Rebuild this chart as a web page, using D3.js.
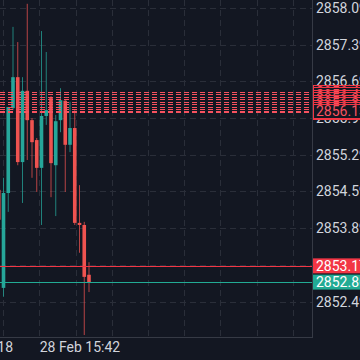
<!DOCTYPE html>
<html>
<head>
<meta charset="utf-8">
<script src="https://cdn.jsdelivr.net/npm/d3@7"></script>
<style>
  html, body { margin: 0; padding: 0; background: #131722; }
  svg { display: block; }
  text { font-family: Roboto, "Noto Sans", sans-serif; }
</style>
</head>
<body>
<svg id="chart" width="360" height="360"></svg>
<script>
// ---- data ----
const opens  = [2854.62, 2852.75, 2854.56, 2856.18, 2856.77, 2855.15, 2856.51, 2855.95, 2855.57, 2855.04, 2856.03, 2856.37, 2855.09, 2855.95, 2856.32, 2855.48, 2855.80, 2853.99, 2853.95, 2853.00];
const highs  = [2854.70, 2854.85, 2856.20, 2857.73, 2857.44, 2856.77, 2858.17, 2855.99, 2855.61, 2857.65, 2857.25, 2856.41, 2856.05, 2856.56, 2856.35, 2856.30, 2856.14, 2854.71, 2854.01, 2853.24];
const lows   = [2853.90, 2852.58, 2854.20, 2856.14, 2855.09, 2854.37, 2855.19, 2854.85, 2854.58, 2853.95, 2855.86, 2854.48, 2854.12, 2855.72, 2854.58, 2855.34, 2853.95, 2853.42, 2851.85, 2852.67];
const closes = [2854.05, 2854.56, 2856.20, 2856.77, 2855.15, 2856.51, 2855.95, 2855.53, 2855.04, 2856.03, 2856.14, 2855.13, 2855.93, 2856.33, 2855.48, 2855.80, 2853.99, 2853.95, 2852.96, 2852.86];

const priceTicks = [2858.09, 2857.39, 2856.69, 2855.99, 2855.29, 2854.59, 2853.89, 2853.19, 2852.49];
const timeGridTicks = [0.89, 8.53, 16.16, 23.79, 31.42, 39.05, 46.68, 54.32, 61.95];
const timeLabels = ["15:18", "28 Feb 15:42"];
const timeLabelPos = [-0.66, 17.1];

const orderPrices = [2856.48, 2856.44, 2856.40, 2856.35, 2856.30, 2856.26, 2856.21, 2856.17, 2856.10, 2856.13];
const askPrice = 2853.17;
const lastPrice = 2852.86;

// ---- layout ----
const W = 360, H = 360;
const plotRight = 312, plotBottom = 337;
const bg = "#131722", gridC = "#2a2e39", textC = "#d1d4dc";
const up = "#26a69a", down = "#ef5350";

const svg = d3.select("#chart");
svg.append("rect").attr("width", W).attr("height", H).attr("fill", bg);

const x = d3.scaleLinear().domain([0, 19]).range([-1.25, 89]);
const y = d3.scaleLinear().domain([2852.49, 2858.09]).range([301.5, 8]);

svg.append("clipPath").attr("id", "plotclip")
  .append("rect").attr("x", 0).attr("y", 0).attr("width", plotRight).attr("height", plotBottom);

const plot = svg.append("g").attr("clip-path", "url(#plotclip)");

// grid
plot.selectAll("line.hg").data(priceTicks).join("line")
  .attr("x1", 0).attr("x2", plotRight)
  .attr("y1", d => Math.round(y(d)) + 0.5).attr("y2", d => Math.round(y(d)) + 0.5)
  .attr("stroke", gridC).attr("stroke-dasharray", "6,4");
plot.selectAll("line.vg").data(timeGridTicks).join("line")
  .attr("y1", 0).attr("y2", plotBottom)
  .attr("x1", d => Math.round(x(d)) + 0.5).attr("x2", d => Math.round(x(d)) + 0.5)
  .attr("stroke", gridC).attr("stroke-dasharray", "6,4");

// candles
const bars = d3.range(opens.length).map(i => ({i, o: opens[i], h: highs[i], l: lows[i], c: closes[i]}));
const bw = 3.6;
const cg = plot.append("g");
cg.selectAll("line.wick").data(bars).join("line")
  .attr("x1", d => x(d.i)).attr("x2", d => x(d.i))
  .attr("y1", d => y(d.h)).attr("y2", d => y(d.l))
  .attr("stroke", d => d.c >= d.o ? up : down)
  .attr("stroke-opacity", 0.75)
  .attr("stroke-width", 1);
cg.selectAll("rect.body").data(bars).join("rect")
  .attr("x", d => x(d.i) - bw / 2)
  .attr("width", bw)
  .attr("y", d => y(Math.max(d.o, d.c)))
  .attr("height", d => Math.max(1, Math.abs(y(d.o) - y(d.c))))
  .attr("fill", d => d.c >= d.o ? up : down);

// order lines (dashed red)
plot.selectAll("line.order").data(orderPrices).join("line")
  .attr("x1", 0).attr("x2", plotRight)
  .attr("y1", d => Math.round(y(d)) + 0.5).attr("y2", d => Math.round(y(d)) + 0.5)
  .attr("stroke", "#f7525f").attr("stroke-width", 1)
  .attr("stroke-dasharray", "5,3");

// ask / last lines
plot.append("line").attr("x1", 0).attr("x2", plotRight)
  .attr("y1", Math.round(y(askPrice)) + 0.5).attr("y2", Math.round(y(askPrice)) + 0.5)
  .attr("stroke", "#f23645");
plot.append("line").attr("x1", 0).attr("x2", plotRight)
  .attr("y1", Math.round(y(lastPrice)) + 0.5).attr("y2", Math.round(y(lastPrice)) + 0.5)
  .attr("stroke", "#22ab94");

// axes borders
svg.append("line").attr("x1", plotRight + 0.5).attr("x2", plotRight + 0.5)
  .attr("y1", 0).attr("y2", plotBottom + 1).attr("stroke", "#363a45");
svg.append("line").attr("x1", 0).attr("x2", plotRight + 1)
  .attr("y1", plotBottom + 0.5).attr("y2", plotBottom + 0.5).attr("stroke", "#363a45");

// price axis labels
svg.selectAll("text.pt").data(priceTicks).join("text")
  .attr("x", 316).attr("y", d => y(d)).attr("dy", "0.36em")
  .attr("font-size", 14).attr("fill", textC)
  .text(d => d.toFixed(2));

// time labels
svg.selectAll("text.tl").data(timeLabels).join("text")
  .attr("x", (d, i) => x(timeLabelPos[i])).attr("y", 352)
  .attr("text-anchor", "middle")
  .attr("font-size", 14).attr("fill", textC)
  .text(d => d);

// order labels
const og = svg.append("g");
orderPrices.forEach(p => {
  const g = og.append("g");
  g.append("rect").attr("x", 313.5).attr("y", Math.round(y(p)) - 6.5).attr("width", 60).attr("height", 14)
    .attr("fill", bg).attr("stroke", "#f23645").attr("stroke-width", 1);
  g.append("text").attr("x", 316).attr("y", y(p)).attr("dy", "0.36em")
    .attr("font-size", 14).attr("fill", "#f7525f").text(p.toFixed(2));
});

// ask / last labels
[[askPrice, "#f23645"], [lastPrice, "#22ab94"]].forEach(([p, col]) => {
  svg.append("rect").attr("x", 313).attr("y", y(p) - 7.5).attr("width", 60).attr("height", 15).attr("fill", col);
  svg.append("text").attr("x", 316).attr("y", y(p)).attr("dy", "0.36em")
    .attr("font-size", 14).attr("fill", "#ffffff").text(p.toFixed(2));
});
</script>
</body>
</html>
